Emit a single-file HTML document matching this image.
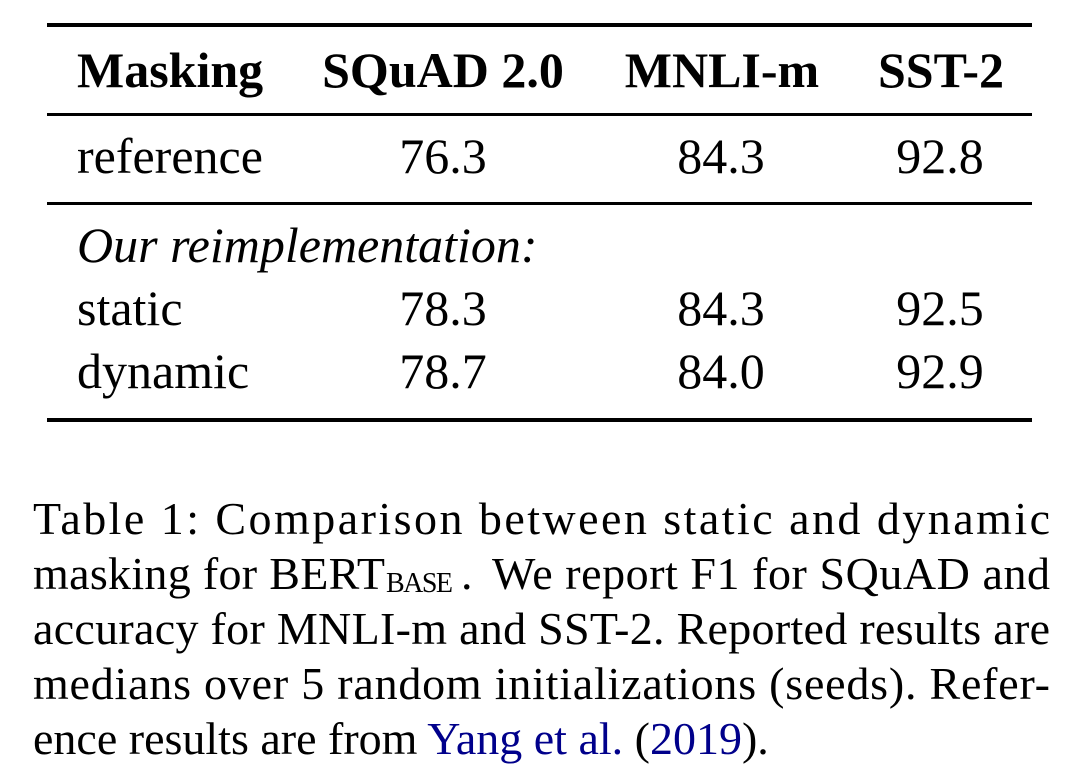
<!DOCTYPE html>
<html><head><style>
html,body{margin:0;padding:0;background:#fff;}
svg{display:block;}
text{font-family:"Liberation Serif",serif;fill:#000;}
</style></head><body>
<svg width="1092" height="776" viewBox="0 0 1092 776">
<rect x="47" y="23" width="985" height="4"/>
<rect x="47" y="113" width="985" height="3"/>
<rect x="47" y="202" width="985" height="3"/>
<rect x="47" y="418" width="985" height="4"/>
<g font-size="50" font-weight="bold">
<text x="77" y="87">Masking</text>
<text x="443" y="87" text-anchor="middle">SQuAD 2.0</text>
<text x="722" y="87" text-anchor="middle">MNLI-m</text>
<text x="941" y="87" text-anchor="middle">SST-2</text>
</g>
<g font-size="50">
<text x="77" y="173">reference</text>
<text x="443" y="173" text-anchor="middle">76.3</text>
<text x="721" y="173" text-anchor="middle">84.3</text>
<text x="940" y="173" text-anchor="middle">92.8</text>
<text x="77" y="262" font-style="italic">Our reimplementation:</text>
<text x="77" y="325">static</text>
<text x="443" y="325" text-anchor="middle">78.3</text>
<text x="721" y="325" text-anchor="middle">84.3</text>
<text x="940" y="325" text-anchor="middle">92.5</text>
<text x="77" y="388">dynamic</text>
<text x="443" y="388" text-anchor="middle">78.7</text>
<text x="721" y="388" text-anchor="middle">84.0</text>
<text x="940" y="388" text-anchor="middle">92.9</text>
</g>
<g font-size="46">
<text x="33" y="534" textLength="1017" lengthAdjust="spacing">Table 1:  Comparison between static and dynamic</text>
<text x="33" y="589" textLength="352" lengthAdjust="spacing">masking for BERT</text>
<text x="386" y="592" font-size="28" textLength="67" lengthAdjust="spacing">BASE</text>
<text x="461" y="589">.</text>
<text x="492" y="589" textLength="558" lengthAdjust="spacing">We report F1 for SQuAD and</text>
<text x="33" y="644" textLength="1017" lengthAdjust="spacing">accuracy for MNLI-m and SST-2. Reported results are</text>
<text x="33" y="699" textLength="1017" lengthAdjust="spacing">medians over 5 random initializations (seeds).  Refer-</text>
<text x="33" y="754">ence results are from <tspan fill="#00008b">Yang et al.</tspan> (<tspan fill="#00008b">2019</tspan>).</text>
</g>
</svg>
</body></html>
